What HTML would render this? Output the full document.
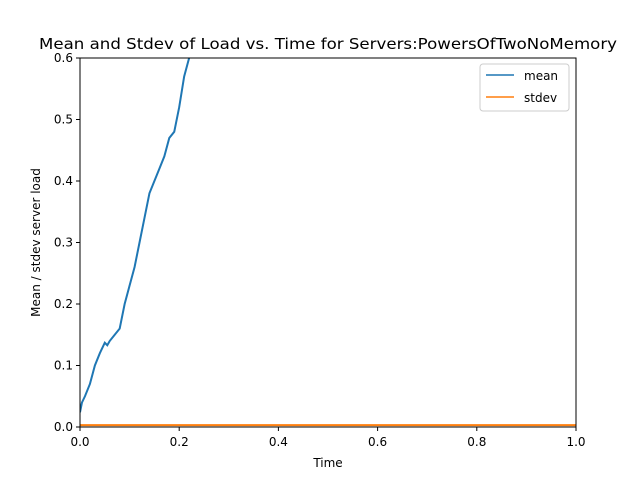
<!DOCTYPE html>
<html><head><meta charset="utf-8"><style>body{margin:0;background:#fff}svg{font-family:"DejaVu Sans","Liberation Sans",sans-serif}</style></head>
<body>
<svg id="c" width="640" height="480" xmlns="http://www.w3.org/2000/svg">
<defs><clipPath id="clip"><rect x="80" y="58" width="496" height="369"/></clipPath></defs>
<rect width="640" height="480" fill="#fff"/>
<text x="39" y="49" font-size="15.5" textLength="578" lengthAdjust="spacingAndGlyphs">Mean and Stdev of Load vs. Time for Servers:PowersOfTwoNoMemory</text>
<g id="plot" clip-path="url(#clip)"></g>
<rect x="80" y="58" width="496" height="369" fill="none" stroke="#000" stroke-width="1"/>
<g id="axes" font-size="12"></g>
<text x="328" y="467" font-size="12" text-anchor="middle">Time</text>
<text transform="translate(40,242.5) rotate(-90)" font-size="12" text-anchor="middle">Mean / stdev server load</text>
<g>
<rect x="480" y="64" width="89" height="47" rx="3" fill="#fff" stroke="#ccc"/>
<line x1="486" y1="75" x2="514" y2="75" stroke="#1f77b4" stroke-width="1.5"/>
<text x="524" y="80" font-size="12">mean</text>
<line x1="486" y1="97" x2="514" y2="97" stroke="#ff7f0e" stroke-width="1.5"/>
<text x="524" y="102" font-size="12">stdev</text>
</g>
</svg>
<script>
const times=[0,0.004,0.01,0.02,0.03,0.04,0.05,0.055,0.06,0.07,0.08,0.09,0.1,0.11,0.12,0.13,0.14,0.15,0.16,0.17,0.18,0.19,0.2,0.21,0.22,0.23];
const meanVals=[0.024,0.04,0.05,0.07,0.1,0.12,0.137,0.133,0.14,0.15,0.16,0.2,0.23,0.26,0.3,0.34,0.38,0.4,0.42,0.44,0.47,0.48,0.52,0.57,0.6,0.64];
const stdevTimes=[0,1];
const stdevVals=[0.003,0.003];
const xTicks=[0,0.2,0.4,0.6,0.8,1.0];
const yTicks=[0,0.1,0.2,0.3,0.4,0.5,0.6];
const X=v=>80+v*496, Y=v=>427-v/0.6*369;
const ns="http://www.w3.org/2000/svg";
const plot=document.getElementById('plot'), axes=document.getElementById('axes');
function mk(t,a,p){const e=document.createElementNS(ns,t);for(const k in a)e.setAttribute(k,a[k]);p.appendChild(e);return e;}
const m=mk('polyline',{points:times.map((t,i)=>X(t)+','+Y(meanVals[i])).join(' '),fill:'none',stroke:'#1f77b4','stroke-width':2},plot);


const s=mk('polyline',{points:stdevTimes.map((t,i)=>X(t)+','+Y(stdevVals[i])).join(' '),fill:'none',stroke:'#ff7f0e','stroke-width':2},plot);


xTicks.forEach(v=>{
 const l=mk('line',{x1:X(v),x2:X(v),y1:427,y2:431,stroke:'#000'},axes);
 
 
 const t=mk('text',{x:X(v),y:446,'text-anchor':'middle'},axes);t.textContent=v.toFixed(1);
 
 
});
yTicks.forEach(v=>{
 const l=mk('line',{x1:76,x2:80,y1:Y(v),y2:Y(v),stroke:'#000'},axes);
 
 
 const t=mk('text',{x:73,y:Y(v)+4,'text-anchor':'end'},axes);t.textContent=v.toFixed(1);
 
 
});
</script>
</body></html>
